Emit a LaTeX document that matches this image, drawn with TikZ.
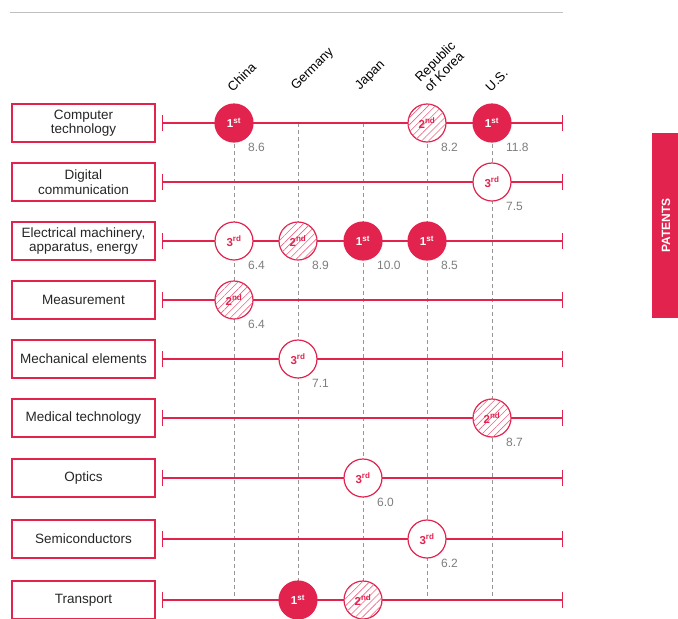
\documentclass[tikz,border=0pt]{standalone}
\usepackage{fontspec}
\setmainfont{Liberation Sans}
\usetikzlibrary{arrows.meta,patterns.meta}

\definecolor{patred}{RGB}{226,35,78}
\definecolor{valgray}{RGB}{125,125,125}
\definecolor{gridgray}{RGB}{150,150,150}

\newcommand\rnk[2]{#1\textsuperscript{#2}}

\tikzset{
  catbox/.style={draw=patred, line width=1.4pt, minimum width=143pt, minimum height=38pt,
    inner sep=0pt, align=center, text=black!85, font=\fontsize{13.5}{14.5}\selectfont},
  rowline/.style={draw=patred, line width=1.2pt, {Bar[width=16pt]}-{Bar[width=16pt]}},
  colline/.style={draw=gridgray, line width=0.8pt, dash pattern=on 4pt off 3pt},
  rank/.style={circle, minimum size=38pt, inner sep=0pt, line width=1.2pt,
    font=\fontsize{11.5}{12}\selectfont\bfseries},
  first/.style={rank, draw=patred, fill=patred, text=white},
  second/.style={rank, draw=patred, fill=white, text=patred,
    postaction={pattern={Lines[angle=45,distance=5pt,line width=0.6pt]}, pattern color=patred!70}},
  third/.style={rank, draw=patred, fill=white, text=patred},
  val/.style={anchor=west, inner sep=0pt, text=valgray, font=\fontsize{12}{12}\selectfont},
  country/.style={rotate=45, anchor=south west, align=left, inner sep=1pt,
    font=\fontsize{13}{13.5}\selectfont}
}

\begin{document}
\begin{tikzpicture}[x=1pt,y=-1pt]
  \clip (0,0) rectangle (678,619);

  % Top rule
  \coordinate (ruleL) at (10,12);
  \coordinate (ruleR) at (563,12);
  \draw[gridgray!60, line width=0.8pt] (ruleL) -- (ruleR);

  % Column guides (one per country)
  \foreach \c/\x in {china/234, germany/298, japan/363, korea/427, us/492}{
    \coordinate (\c-top) at (\x,123);
    \coordinate (\c-bot) at (\x,600);
    \draw[colline] (\c-top) -- (\c-bot);
  }

  % Country names
  \node[country] (lchina)   at (233,94) {China};
  \node[country] (lgermany) at (298,94) {Germany};
  \node[country] (ljapan)   at (362,94) {Japan};
  \node[country] (lkorea)   at (430,94) {Republic\\of Korea};
  \node[country] (lus)      at (491,94) {U.S.};

  % Fields: box on the left, line across
  \foreach \r/\txt/\y in {comp/{Computer\\technology}/123,
                          digi/{Digital\\communication}/182,
                          elec/{Electrical machinery,\\apparatus, energy}/241,
                          meas/{Measurement}/300,
                          mech/{Mechanical elements}/359,
                          medi/{Medical technology}/418,
                          opti/{Optics}/478,
                          semi/{Semiconductors}/539,
                          tran/{Transport}/600}{
    \node[catbox] (\r-box) at (83.5,\y) {\txt};
    \coordinate (\r-L) at (162,\y);
    \coordinate (\r-R) at (563,\y);
    \draw[rowline] (\r-L) -- (\r-R);
  }

  % Rankings
  \node[first]  (comp-china)   at (china-top |- comp-L)   {\rnk{1}{st}};
  \node[second] (comp-korea)   at (korea-top |- comp-L)   {\rnk{2}{nd}};
  \node[first]  (comp-us)      at (us-top |- comp-L)      {\rnk{1}{st}};

  \node[third]  (digi-us)      at (us-top |- digi-L)      {\rnk{3}{rd}};

  \node[third]  (elec-china)   at (china-top |- elec-L)   {\rnk{3}{rd}};
  \node[second] (elec-germany) at (germany-top |- elec-L) {\rnk{2}{nd}};
  \node[first]  (elec-japan)   at (japan-top |- elec-L)   {\rnk{1}{st}};
  \node[first]  (elec-korea)   at (korea-top |- elec-L)   {\rnk{1}{st}};

  \node[second] (meas-china)   at (china-top |- meas-L)   {\rnk{2}{nd}};
  \node[third]  (mech-germany) at (germany-top |- mech-L) {\rnk{3}{rd}};
  \node[second] (medi-us)      at (us-top |- medi-L)      {\rnk{2}{nd}};
  \node[third]  (opti-japan)   at (japan-top |- opti-L)   {\rnk{3}{rd}};
  \node[third]  (semi-korea)   at (korea-top |- semi-L)   {\rnk{3}{rd}};

  \node[first]  (tran-germany) at (germany-top |- tran-L) {\rnk{1}{st}};
  \node[second] (tran-japan)   at (japan-top |- tran-L)   {\rnk{2}{nd}};

  % Values
  \foreach \n/\v in {comp-china/8.6, comp-korea/8.2, comp-us/11.8, digi-us/7.5,
                     elec-china/6.4, elec-germany/8.9, elec-japan/10.0, elec-korea/8.5,
                     meas-china/6.4, mech-germany/7.1, medi-us/8.7, opti-japan/6.0,
                     semi-korea/6.2}
    \node[val] (v-\n) at ([xshift=14pt,yshift=-24pt]\n.center) {\v};

  % Side tab
  \node[fill=patred, rotate=90, minimum width=185pt, minimum height=28pt, inner sep=0pt,
        text=white, font=\fontsize{12}{12}\selectfont\bfseries] (tab) at (666,225.5) {PATENTS};
\end{tikzpicture}
\end{document}
